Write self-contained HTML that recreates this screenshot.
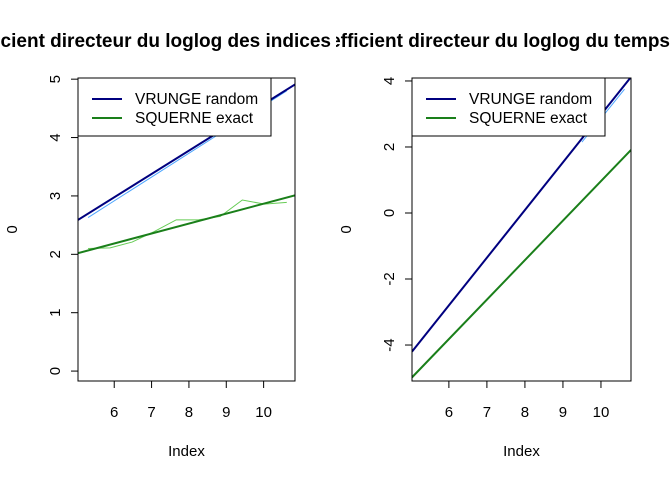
<!DOCTYPE html>
<html><head><meta charset="utf-8"><style>
body{margin:0;background:#fff}
svg{display:block;font-family:"Liberation Sans",Arial,sans-serif}
</style></head><body>
<svg id="c" width="672" height="480" xmlns="http://www.w3.org/2000/svg">
<defs>
<clipPath id="clipL"><rect x="0" y="0" width="335" height="480"/></clipPath>
<clipPath id="clipR"><rect x="336" y="0" width="336" height="480"/></clipPath>
<clipPath id="boxL"><rect x="78" y="78" width="217" height="303"/></clipPath>
<clipPath id="boxR"><rect x="412" y="78" width="219" height="303"/></clipPath>
</defs>
</svg>
<script>
// Left panel data
const leftThinX = [5.3,5.89,6.48,7.07,7.66,8.25,8.84,9.43,10.02,10.62];
const leftGreenThin = [2.10,2.11,2.21,2.39,2.59,2.59,2.65,2.93,2.86,2.89];
const leftBlueThinX = [5.3,10.62];
const leftBlueThin = [2.63,4.80];
const leftFitX = [5.03,10.84];
const leftBlueFit = [2.59,4.91];
const leftGreenFit = [2.02,3.01];
const leftYTicks = [0,1,2,3,4,5];
const xTicks = [6,7,8,9,10];
// Right panel data
const rightFitX = [5.03,10.79];
const rightBlueFit = [-4.20,4.12];
const rightGreenFit = [-4.98,1.91];
const rightBlueThinX = [9.5,10.62];
const rightBlueThin = [2.15,3.75];
const rightYTicks = [-4,-2,0,2,4];
const legendLabels = ["VRUNGE random","SQUERNE exact"];

const NS="http://www.w3.org/2000/svg", svg=document.getElementById('c');
function el(t,a,p){const e=document.createElementNS(NS,t);for(const k in a)e.setAttribute(k,a[k]);(p||svg).appendChild(e);return e;}

function panel(o){
  const g=el('g',{'clip-path':o.clip});
  
  
  const sx=v=>o.x0+(v-o.xmin)/(o.xmax-o.xmin)*(o.x1-o.x0);
  const sy=v=>o.y1-(v-o.ymin)/(o.ymax-o.ymin)*(o.y1-o.y0);
  const t=el('text',{x:o.tx,y:47,'text-anchor':'end','font-size':'19','font-weight':'bold'},g);
  t.textContent=o.title;
  
  
  const plot=el('g',{'clip-path':o.box},g);
  o.series.forEach(s=>{
    const p=el('polyline',{points:s.x.map((x,i)=>sx(x)+','+sy(s.y[i])).join(' '),fill:'none',stroke:s.c,'stroke-width':s.w},plot);
    
    
  });
  const b=el('rect',{x:o.x0,y:o.y0,width:o.x1-o.x0,height:o.y1-o.y0,fill:'none',stroke:'#000','stroke-width':1},g);
  
  
  const lg=el('g',{},g);
  
  
  el('rect',{x:o.x0,y:o.y0,width:193,height:58,fill:'#fff',stroke:'#000'},lg);
  [['#00007f',0],['#1a7f1a',1]].forEach(([c,i])=>{
    el('line',{x1:o.x0+14,x2:o.x0+44,y1:o.y0+21+i*19,y2:o.y0+21+i*19,stroke:c,'stroke-width':2},lg);
    const tx=el('text',{x:o.x0+57,y:o.y0+26+i*19,'font-size':'15.5'},lg);
    tx.textContent=legendLabels[i];
    
    
  });
  el('line',{x1:sx(xTicks[0]),x2:sx(xTicks[xTicks.length-1]),y1:o.y1,y2:o.y1,stroke:'#000'},g);
  xTicks.forEach(v=>{
    el('line',{x1:sx(v),x2:sx(v),y1:o.y1,y2:o.y1+7,stroke:'#000'},g);
    const tx=el('text',{x:sx(v),y:417,'text-anchor':'middle','font-size':'15'},g);
    tx.textContent=v;
    
    
  });
  const yt=o.yticks;
  el('line',{x1:o.x0,x2:o.x0,y1:sy(yt[0]),y2:sy(yt[yt.length-1]),stroke:'#000'},g);
  yt.forEach(v=>{
    el('line',{x1:o.x0,x2:o.x0-7,y1:sy(v),y2:sy(v),stroke:'#000'},g);
    const tx=el('text',{x:o.x0-18,y:sy(v),'text-anchor':'middle','font-size':'15',transform:`rotate(-90 ${o.x0-18} ${sy(v)})`},g);
    tx.textContent=v;
    
    
  });
  const xl=el('text',{x:(o.x0+o.x1)/2,y:456,'text-anchor':'middle','font-size':'15'},g);
  xl.textContent='Index';
  
  
  const ylx=o.x0-61, yly=(o.y0+o.y1)/2;
  const yl=el('text',{x:ylx,y:yly,'text-anchor':'middle','font-size':'15',transform:`rotate(-90 ${ylx} ${yly})`},g);
  yl.textContent='0';
  
  
}

panel({name:'left-panel',clip:'url(#clipL)',box:'url(#boxL)',x0:78,x1:295,y0:78,y1:381,
  xmin:5.03,xmax:10.84,ymin:-0.17,ymax:5.02,tx:331,yticks:leftYTicks,
  title:'Coefficient directeur du loglog des indices',
  series:[
    {n:'green-thin-line',x:leftThinX,y:leftGreenThin,c:'#66cc55',w:1},
    {n:'blue-thin-line',x:leftBlueThinX,y:leftBlueThin,c:'#4da6ff',w:1},
    {n:'green-fit-line',x:leftFitX,y:leftGreenFit,c:'#1a7f1a',w:2},
    {n:'blue-fit-line',x:leftFitX,y:leftBlueFit,c:'#00007f',w:2}
  ]});
panel({name:'right-panel',clip:'url(#clipR)',box:'url(#boxR)',x0:412,x1:631,y0:78,y1:381,
  xmin:5.03,xmax:10.79,ymin:-5.09,ymax:4.09,tx:670,yticks:rightYTicks,
  title:'Coefficient directeur du loglog du temps',
  series:[
    {n:'blue-thin-line',x:rightBlueThinX,y:rightBlueThin,c:'#4da6ff',w:1},
    {n:'green-fit-line',x:rightFitX,y:rightGreenFit,c:'#1a7f1a',w:2},
    {n:'blue-fit-line',x:rightFitX,y:rightBlueFit,c:'#00007f',w:2}
  ]});
</script>
</body></html>
